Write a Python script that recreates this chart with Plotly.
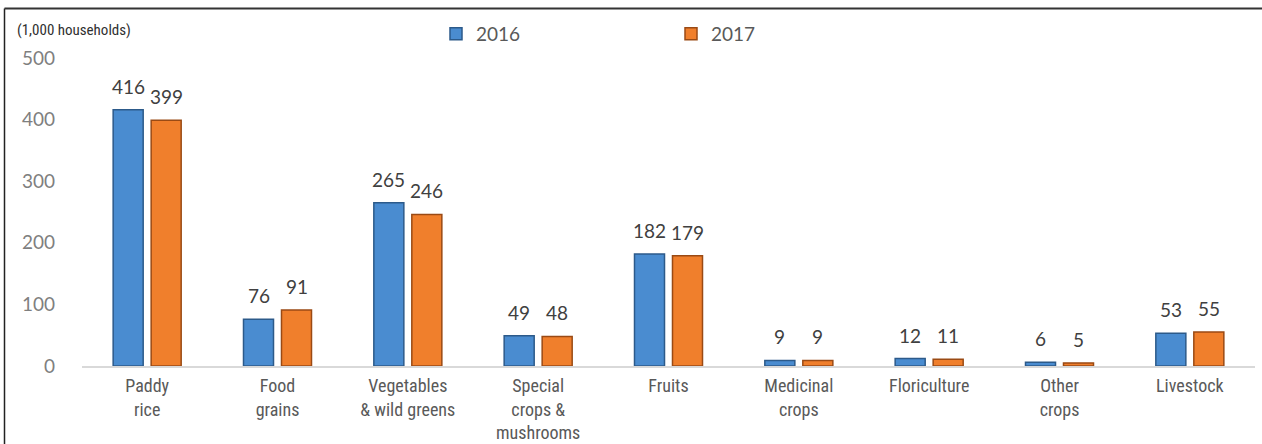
import plotly.graph_objects as go

categories = ["Paddy<br>rice", "Food<br>grains", "Vegetables<br>& wild greens",
              "Special<br>crops &<br>mushrooms", "Fruits", "Medicinal<br>crops",
              "Floriculture", "Other<br>crops", "Livestock"]
values_2016 = [416, 76, 265, 49, 182, 9, 12, 6, 53]
values_2017 = [399, 91, 246, 48, 179, 9, 11, 5, 55]
y_ticks = [0, 100, 200, 300, 400, 500]

BLUE = "#4a8cd0"
BLUE_EDGE = "#2c5a8a"
ORANGE = "#f07f2c"
ORANGE_EDGE = "#9a4a14"

NUM_FONT = "Lato, Carlito, Calibri, sans-serif"
NARROW_FONT = "'Liberation Sans Narrow', 'Roboto Condensed', 'DejaVu Sans Condensed', 'Arial Narrow', sans-serif"

fig = go.Figure()
fig.add_trace(go.Bar(name="2016", x=categories, y=values_2016,
                     marker=dict(color=BLUE, line=dict(color=BLUE_EDGE, width=1.5))))
fig.add_trace(go.Bar(name="2017", x=categories, y=values_2017,
                     marker=dict(color=ORANGE, line=dict(color=ORANGE_EDGE, width=1.5))))

annotations = []
for cat, v16, v17 in zip(categories, values_2016, values_2017):
    for v, sh in ((v16, -19), (v17, 19)):
        annotations.append(dict(x=cat, y=v, xref="x", yref="y", text=str(v),
                                showarrow=False, xshift=sh, yshift=10, yanchor="bottom",
                                font=dict(family=NUM_FONT, size=19, color="#404040")))

annotations.append(dict(x=(15 - 82) / 1173, y=1 + (58 - 30) / 308, xref="paper", yref="paper",
                        xanchor="left", yanchor="middle", showarrow=False,
                        text="(1,000 households)",
                        font=dict(family=NARROW_FONT, size=15, color="#303030")))

shapes = [
    # chart border (left and top)
    dict(type="line", xref="paper", yref="paper",
         x0=(4.5 - 82) / 1173, x1=(4.5 - 82) / 1173, y0=-0.4, y1=1 + (58 - 8.5) / 308,
         line=dict(color="#222222", width=1.5)),
    dict(type="line", xref="paper", yref="paper",
         x0=(4.5 - 82) / 1173, x1=1.1, y0=1 + (58 - 8.5) / 308, y1=1 + (58 - 8.5) / 308,
         line=dict(color="#333333", width=2)),
]

fig.update_layout(
    width=1262, height=444,
    margin=dict(l=82, r=7, t=58, b=78),
    paper_bgcolor="white", plot_bgcolor="white",
    barmode="group", bargap=0.417, bargroupgap=0.21,
    showlegend=True,
    legend=dict(orientation="h", x=(436 - 82) / 1173, y=1 + (58 - 34) / 308,
                xanchor="left", yanchor="middle", entrywidth=190, entrywidthmode="pixels",
                font=dict(family=NUM_FONT, size=19, color="#595959"),
                bgcolor="rgba(0,0,0,0)"),
    annotations=annotations,
    shapes=shapes,
    xaxis=dict(showgrid=False, showline=True, linecolor="#d9d9d9", linewidth=1.5,
               ticks="", ticklabelstandoff=3, automargin=False,
               tickfont=dict(family=NARROW_FONT, size=18, color="#595959"),
               tickangle=0),
    yaxis=dict(range=[0, 500], tickvals=y_ticks, showgrid=False, zeroline=False,
               showline=False, ticks="", ticklabelstandoff=26, automargin=False,
               tickfont=dict(family=NUM_FONT, size=19, color="#7f7f7f")),
)

fig.write_html("out.html", config={"displayModeBar": False},
               post_script="document.body.style.margin='0';")
